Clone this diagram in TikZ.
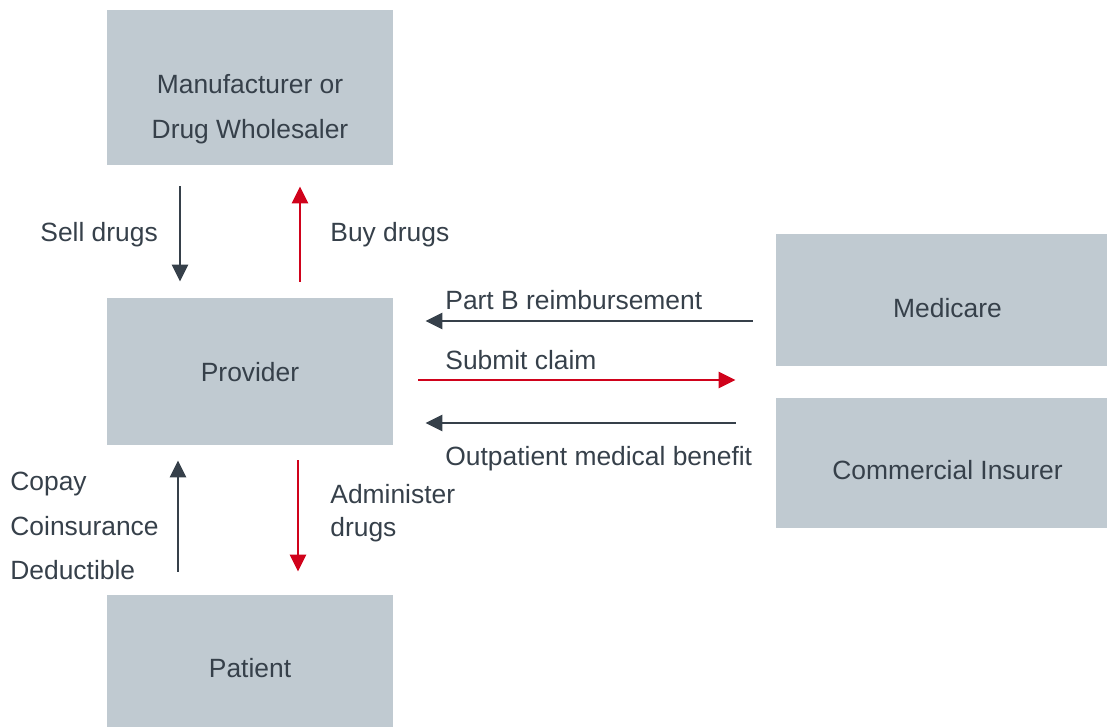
\documentclass[tikz,border=0pt]{standalone}
\usepackage{fontspec}
\setmainfont{Liberation Sans}
\usetikzlibrary{arrows.meta}

\definecolor{boxgray}{HTML}{C0CAD1}
\definecolor{ink}{HTML}{36404A}
\definecolor{accent}{HTML}{D0021B}

\tikzset{
  party/.style={fill=boxgray, draw=none, inner sep=0pt},
  boxtext/.style={text=ink, align=center, inner sep=0pt},
  flow/.style={-{Triangle[length=8.5pt,width=8pt]}, line width=1.3pt, ink},
  back/.style={flow, accent},
  lbl/.style={text=ink, anchor=base west, inner sep=0pt},
}

\begin{document}
\begin{tikzpicture}[x=0.5pt,y=-0.5pt,font=\fontsize{13.2}{22.5}\selectfont]
\useasboundingbox (0,0) rectangle (1107,727);

% the five parties
\node[party, minimum width=143pt, minimum height=77.5pt] (mfr) at (250,87.5) {};
\node[party, minimum width=143pt, minimum height=73.5pt] (prov) at (250,371.5) {};
\node[party, minimum width=143pt, minimum height=66pt] (pat) at (250,661) {};
\node[party, minimum width=165.5pt, minimum height=66pt] (medi) at (941.5,300) {};
\node[party, minimum width=165.5pt, minimum height=65pt] (comm) at (941.5,463) {};

\node[boxtext] (mfrtxt) at (250,109) {Manufacturer or\\Drug Wholesaler};
\node[boxtext, anchor=base] (provtxt) at (250,381.5) {Provider};
\node[boxtext, anchor=base] (pattxt) at (250,677.5) {Patient};
\node[boxtext, anchor=base] (meditxt) at (947.5,317.5) {Medicare};
\node[boxtext, anchor=base] (commtxt) at (947.5,479.5) {Commercial Insurer};

% drugs between wholesaler and provider
\draw[flow] ([xshift=-35pt,yshift=-10.5pt]mfr.south) -- ([xshift=-35pt,yshift=8pt]prov.north);
\draw[back] ([xshift=25pt,yshift=8pt]prov.north) -- ([xshift=25pt,yshift=-10.5pt]mfr.south);
\node[lbl] (sell) at (40,241.5) {Sell drugs};
\node[lbl] (buy) at (330,241.5) {Buy drugs};

% provider and payers
\draw[flow] ([xshift=-11.5pt,yshift=-10.5pt]medi.west) -- ([xshift=16pt,yshift=-10.5pt]medi.west -| prov.east);
\draw[back] ([xshift=12.5pt,yshift=-4.25pt]prov.east) -- ([xshift=-20pt,yshift=-4.25pt]prov.east -| medi.west);
\draw[flow] ([xshift=-20pt,yshift=20pt]comm.west) -- ([xshift=16pt,yshift=20pt]comm.west -| prov.east);
\node[lbl] (partb) at (445,309.5) {Part B reimbursement};
\node[lbl] (claim) at (445,369.5) {Submit claim};
\node[lbl] (benefit) at (445,465.5) {Outpatient medical benefit};

% provider and patient
\draw[flow] ([xshift=-36pt,yshift=11.5pt]pat.north) -- ([xshift=-36pt,yshift=-7.5pt]prov.south);
\draw[back] ([xshift=24pt,yshift=-7.5pt]prov.south) -- ([xshift=24pt,yshift=11.5pt]pat.north);
\foreach \t [count=\i] in {Copay,Coinsurance,Deductible}
  \node[lbl] (fee\i) at (10,{490.5+44.5*(\i-1)}) {\t};
\node[lbl] (admin1) at (330,503.5) {Administer};
\node[lbl] (admin2) at (330,536.5) {drugs};

\end{tikzpicture}
\end{document}
